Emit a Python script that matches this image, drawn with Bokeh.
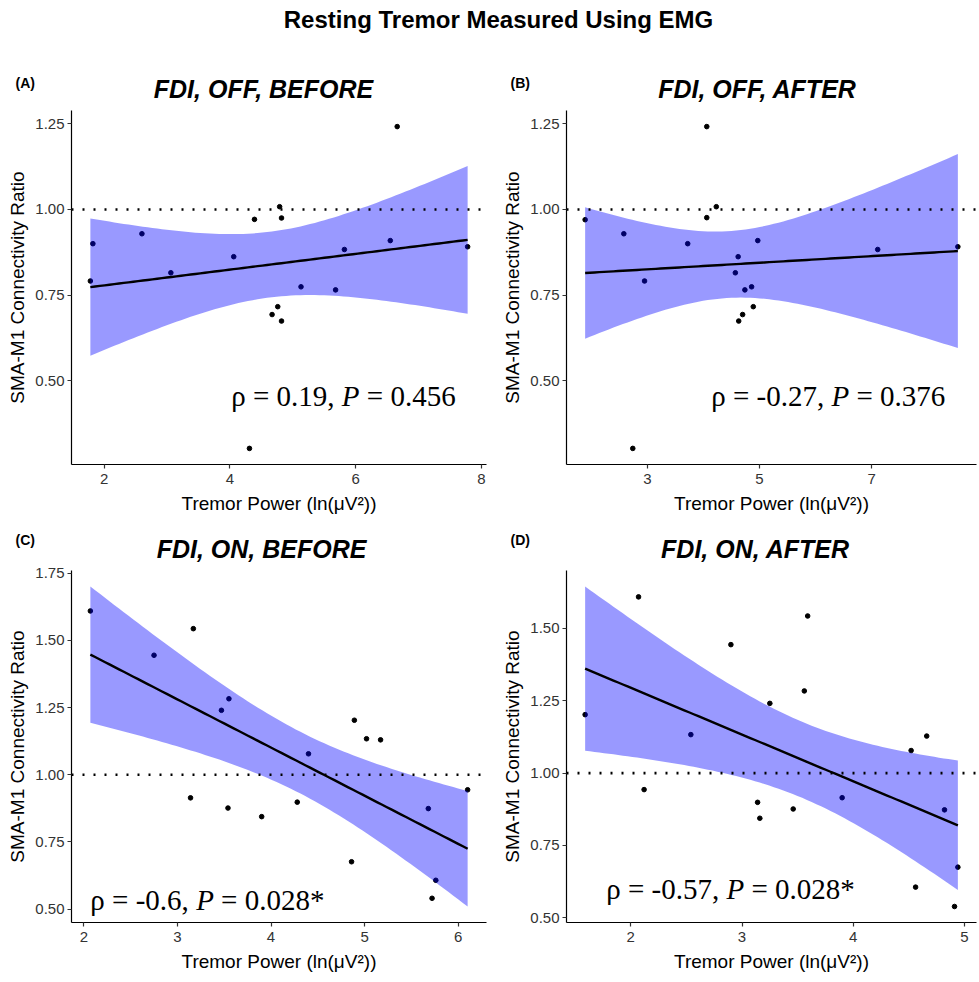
import numpy as np
from bokeh.plotting import figure
from bokeh.models import Span, Label, FixedTicker, PrintfTickFormatter, Range1d
from bokeh.layouts import column, row
from bokeh.embed import file_html
from bokeh.resources import INLINE

# ---------------- data ----------------
main_title = "Resting Tremor Measured Using EMG"
x_label = "Tremor Power (ln(\u03bcV\u00b2))"
y_label = "SMA-M1 Connectivity Ratio"

a_tag, a_title = "(A)", "FDI, OFF, BEFORE"
a_x = [1.78, 1.82, 2.60, 3.06, 4.06, 4.39, 4.31, 4.79, 4.82, 4.76, 4.67, 4.82, 5.13, 5.68, 5.82, 6.55, 6.66, 7.78]
a_y = [0.791, 0.900, 0.929, 0.815, 0.862, 0.971, 0.302, 1.008, 0.975, 0.716, 0.693, 0.674, 0.774, 0.765, 0.883, 0.909, 1.242, 0.891]
a_xticks = [2, 4, 6, 8]
a_yticks = [0.50, 0.75, 1.00, 1.25]
a_rho, a_p = "0.19", "0.456"

b_tag, b_title = "(B)", "FDI, OFF, AFTER"
b_x = [1.89, 2.58, 2.74, 2.95, 3.72, 4.06, 4.06, 4.23, 4.57, 4.62, 4.63, 4.70, 4.74, 4.86, 4.89, 4.97, 7.11, 8.54]
b_y = [0.970, 0.929, 0.302, 0.791, 0.900, 1.242, 0.976, 1.008, 0.815, 0.862, 0.674, 0.693, 0.765, 0.774, 0.716, 0.909, 0.883, 0.891]
b_xticks = [3, 5, 7]
b_yticks = [0.50, 0.75, 1.00, 1.25]
b_rho, b_p = "-0.27", "0.376"

c_tag, c_title = "(C)", "FDI, ON, BEFORE"
c_x = [2.07, 2.75, 3.17, 3.14, 3.47, 3.55, 3.54, 3.90, 4.28, 4.40, 4.89, 5.02, 5.17, 4.86, 5.68, 5.76, 5.72, 6.10]
c_y = [1.610, 1.445, 1.544, 0.914, 1.240, 1.283, 0.876, 0.844, 0.898, 1.078, 1.203, 1.134, 1.130, 0.676, 0.874, 0.607, 0.540, 0.944]
c_xticks = [2, 3, 4, 5, 6]
c_yticks = [0.50, 0.75, 1.00, 1.25, 1.50, 1.75]
c_rho, c_p = "-0.6", "0.028*"

d_tag, d_title = "(D)", "FDI, ON, AFTER"
d_x = [1.59, 2.07, 2.12, 2.54, 2.90, 3.25, 3.14, 3.16, 3.46, 3.56, 3.59, 3.90, 4.52, 4.66, 4.56, 4.82, 4.91, 4.94]
d_y = [1.202, 1.609, 0.943, 1.133, 1.444, 1.241, 0.899, 0.844, 0.876, 1.284, 1.543, 0.915, 1.078, 1.128, 0.606, 0.873, 0.539, 0.675]
d_xticks = [2, 3, 4, 5]
d_yticks = [0.50, 0.75, 1.00, 1.25, 1.50]
d_rho, d_p = "-0.57", "0.028*"

reference_line = 1.0

# ---------------- styling ----------------
SANS = "Liberation Sans"
SERIF = "Liberation Serif"
T975_DF16 = 2.1199  # t quantile for the 95% CI, n = 18
PAGE_W = 963

SERIF_W = {' ': 0.25, '=': 0.564, '-': 0.333, '.': 0.25, ',': 0.25, '*': 0.5, '\u03c1': 0.5}


def text_w(s, size):
    return sum(SERIF_W.get(ch, 0.5) for ch in s) * size


def lm_band(x, y, n=80):
    x = np.asarray(x, float)
    y = np.asarray(y, float)
    b1, b0 = np.polyfit(x, y, 1)
    res = y - (b0 + b1 * x)
    s = np.sqrt(np.sum(res ** 2) / (len(x) - 2))
    xm = x.mean()
    sxx = np.sum((x - xm) ** 2)
    xs = np.linspace(x.min(), x.max(), n)
    fit = b0 + b1 * xs
    se = s * np.sqrt(1.0 / len(x) + (xs - xm) ** 2 / sxx)
    return xs, fit, fit - T975_DF16 * se, fit + T975_DF16 * se


def header(h, items):
    """A strip of plain text drawn above a row of panels (pixel coordinates)."""
    p = figure(width=PAGE_W, height=h, output_backend="svg", toolbar_location=None,
               x_range=Range1d(0, PAGE_W), y_range=Range1d(0, h),
               x_axis_type=None, y_axis_type=None, title=None,
               min_border=0, outline_line_color=None)
    p.grid.visible = False
    p.border_fill_alpha = 0
    p.background_fill_alpha = 0
    for (txt, x, y, size, style, align) in items:
        p.add_layout(Label(x=x, y=y, text=txt, text_font=SANS, text_font_style=style,
                           text_font_size=size, text_color="black",
                           text_baseline="alphabetic", text_align=align))
    return p


def panel(x, y, xticks, yticks, rho, pval, txt_pos, left, right, fw, fh, top, txt_size=29):
    xs, fit, lo, hi = lm_band(x, y)
    xmin, xmax = min(x), max(x)
    xr = xmax - xmin
    ymin = min(min(y), lo.min())
    ymax = max(max(y), hi.max())
    yr = ymax - ymin
    p = figure(frame_width=fw, frame_height=fh, output_backend="svg",
               toolbar_location=None, title=None,
               x_range=Range1d(xmin - 0.05 * xr, xmax + 0.05 * xr),
               y_range=Range1d(ymin - 0.05 * yr, ymax + 0.05 * yr),
               min_border_left=left, min_border_right=right,
               min_border_top=top, min_border_bottom=52)
    p.outline_line_color = None
    p.grid.visible = False
    p.background_fill_color = "white"
    p.border_fill_alpha = 0

    p.scatter(x, y, size=4.6, color="black")
    p.varea(x=xs, y1=lo, y2=hi, fill_color="blue", fill_alpha=0.4)
    p.line(xs, fit, line_color="black", line_width=2.4)
    p.add_layout(Span(location=reference_line, dimension="width",
                      line_color="black", line_width=2.6, line_dash="2 9"))

    for ax in (p.xaxis[0], p.yaxis[0]):
        ax.axis_line_color = "black"
        ax.axis_line_width = 1.2
        ax.major_tick_line_color = "#333333"
        ax.major_tick_line_width = 1.2
        ax.major_tick_in = 0
        ax.major_tick_out = 4
        ax.minor_tick_line_color = None
        ax.major_label_text_font = SANS
        ax.major_label_text_font_size = "15px"
        ax.major_label_text_color = "#333333"
        ax.axis_label_text_font = SANS
        ax.axis_label_text_font_size = "19px"
        ax.axis_label_text_font_style = "normal"
        ax.axis_label_text_color = "black"
    p.xaxis.ticker = FixedTicker(ticks=xticks)
    p.yaxis.ticker = FixedTicker(ticks=yticks)
    p.yaxis.formatter = PrintfTickFormatter(format="%.2f")
    p.xaxis.major_label_standoff = 5
    p.yaxis.major_label_standoff = 3
    p.xaxis.axis_label_standoff = 6
    p.yaxis.axis_label_standoff = 4
    p.xaxis.axis_label = x_label
    p.yaxis.axis_label = y_label

    # correlation annotation: "ρ = r, P = p" with an italic P
    tx, ty = txt_pos
    part1 = "\u03c1 = %s," % rho
    part3 = "= %s" % pval
    off2 = text_w(part1 + " ", txt_size)
    off3 = off2 + 0.611 * txt_size + 0.25 * txt_size
    common = dict(x=tx, y=ty, text_font=SERIF, text_font_size="%dpx" % txt_size,
                  text_color="black", text_baseline="alphabetic", text_align="left")
    p.add_layout(Label(text=part1, **common))
    p.add_layout(Label(text="P", x_offset=off2, text_font_style="italic", **common))
    p.add_layout(Label(text=part3, x_offset=off3, **common))
    return p


H1, H2 = 110, 46
head1 = header(H1, [
    (main_title, 498, H1 - 19, "24px", "bold", "center"),
    (a_tag, 15, 28, "14px", "bold", "left"),
    (a_title, 263, 22, "25px", "bold italic", "center"),
    (b_tag, 510, 28, "14px", "bold", "left"),
    (b_title, 757, 22, "25px", "bold italic", "center"),
])
head2 = header(H2, [
    (c_tag, 15, 23, "14px", "bold", "left"),
    (c_title, 261, 14, "25px", "bold italic", "center"),
    (d_tag, 510, 23, "14px", "bold", "left"),
    (d_title, 755, 14, "25px", "bold italic", "center"),
])

pA = panel(a_x, a_y, a_xticks, a_yticks, a_rho, a_p, (4.02, 0.456),
           left=71, right=3, fw=415, fh=354, top=0)
pB = panel(b_x, b_y, b_xticks, b_yticks, b_rho, b_p, (4.14, 0.456),
           left=77, right=1, fw=410, fh=354, top=0)
pC = panel(c_x, c_y, c_xticks, c_yticks, c_rho, c_p, (2.07, 0.534),
           left=71, right=3, fw=415, fh=352, top=8)
pD = panel(d_x, d_y, d_xticks, d_yticks, d_rho, d_p, (1.78, 0.598),
           left=77, right=1, fw=410, fh=352, top=8)

layout = column(head1, row(pA, pB), head2, row(pC, pD))

with open("out.html", "w") as f:
    f.write(file_html(layout, INLINE))
